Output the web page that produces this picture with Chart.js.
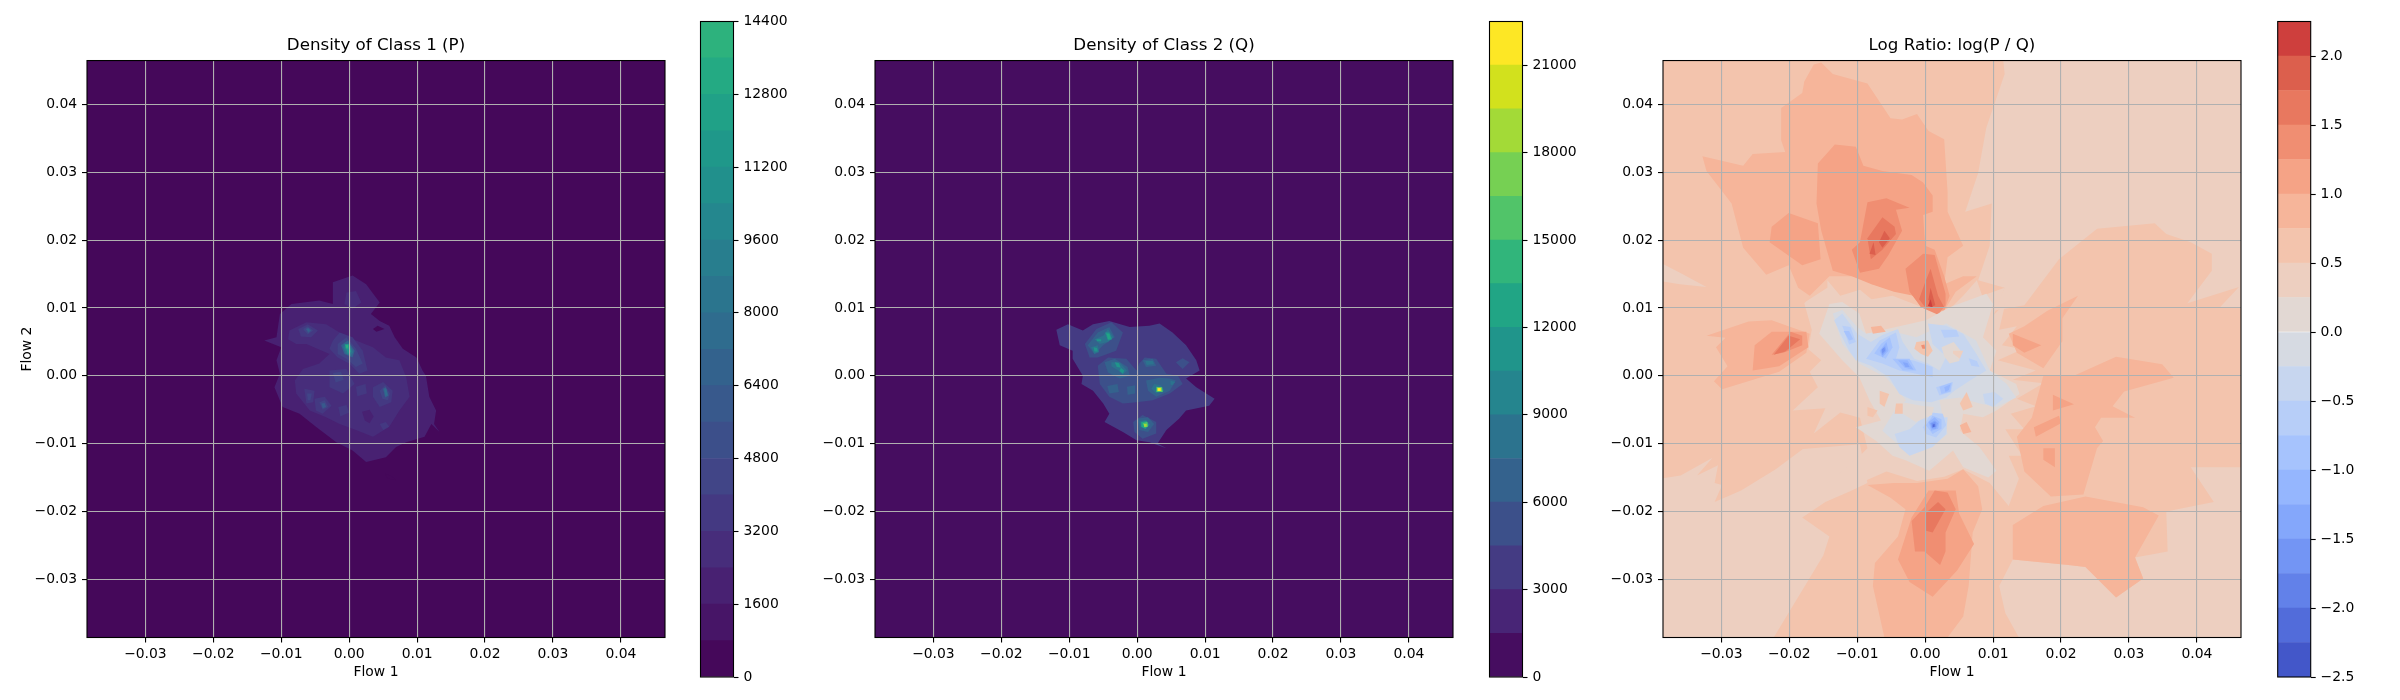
<!DOCTYPE html>
<html>
<head>
<meta charset="utf-8">
<title>Density and log ratio</title>
<script src="https://cdn.jsdelivr.net/npm/chart.js@4"></script>
<style>
  html, body { margin: 0; padding: 0; background: #fff; overflow: hidden; }
  canvas { position: absolute; top: 0; }
</style>
</head>
<body>
<canvas id="plotP" style="left:0"></canvas>
<canvas id="barP" style="left:690px"></canvas>
<canvas id="plotQ" style="left:791px"></canvas>
<canvas id="barQ" style="left:1479px"></canvas>
<canvas id="plotR" style="left:1579px"></canvas>
<canvas id="barR" style="left:2267px"></canvas>
<script>
/* ============================================================
   DATA - axis ticks, contour levels, contour regions
   region = [lower edge of the level, [x, y, x, y ...]] with x/y in 1e-3 flow units
============================================================ */
const flowLimits = [-0.0386, 0.0465];
const flowTicks = [-0.03, -0.02, -0.01, 0, 0.01, 0.02, 0.03, 0.04];

const pMax = 14400, pStep = 800;
const pTicks = [0, 1600, 3200, 4800, 6400, 8000, 9600, 11200, 12800, 14400];
const qMax = 22500, qStep = 1500;
const qTicks = [0, 3000, 6000, 9000, 12000, 15000, 18000, 21000];
const ratioMin = -2.5, ratioMax = 2.25, ratioStep = 0.25;
const ratioTicks = [-2.5, -2, -1.5, -1, -0.5, 0, 0.5, 1, 1.5, 2];

const wholeDomain = [-38.6,-38.6, 46.5,-38.6, 46.5,46.5, -38.6,46.5];

const pRegions = [
  [0, wholeDomain],
  [1600, [-2.4,13.8, .5,14.8, 2.5,13.5, 4.5,10.8, 3.2,9.1, 4.5,8.1, 5.9,7.4, 6.7,5.7, 7.9,4, 9.9,2.7, 10.8,.8, 11.3,0, 11.8,-3.1, 12.8,-5.1, 12.5,-7.1, 13.3,-8.3, 12.1,-7.1, 11.1,-9, 8.4,-9.8, 6.9,-10.5, 5.4,-12, 2.5,-12.7, .5,-11, -1.9,-9.8, -4.9,-7.5, -7.3,-5.6, -9.8,-4.6, -11,-1.7, -10.2,.3, -10.7,2.3, -10,4.2, -12.5,5.2, -10.7,5.7, -10.2,9.1, -8.5,10.6, -4.4,11.1, -2.4,10.6]],
  [0, [3.5,6.9, 4.2,7.4, 5.2,6.9, 4,6.5]],
  [0, [-5,-3.6, -4.7,-3.9, -4.3,-3.6, -4.7,-3.3]],
  [0, [5.3,-14.4, 6.4,-14.9, 6.9,-15.4, 5.6,-15.1]],
  [2400, [-8.8,6.7, -6.3,7.9, -3.4,7.6, -1.4,6.4, 1,5.2, 3.5,4.2, 5.4,2.7, 7.4,2.3, 8.4,-.2, 8.9,-3.1, 7.4,-5.1, 5.9,-7.5, 3.5,-9, 1,-8, -1.4,-7.1, -3.4,-6.1, -5.8,-5.1, -7.8,-2.6, -8,-.7, -6.8,1, -4.4,1.8, -2.9,3.2, -6.3,4.7, -7.8,4.7, -9,5.4]],
  [2400, [-.4,12.3, 1,12.5, 1.8,10.8, .5,9.9, -.7,10.6]],
  [1600, [1.9,-5.3, 3,-5, 3.6,-6, 3,-7, 2.3,-6.6]],
  [3200, [-7.5,6.9, -6.1,7.6, -4.6,6.7, -5.6,5.7, -7.1,5.8]],
  [3200, [-2.4,5.2, -1.4,6.4, .5,5.7, 2,3.7, 2.7,.8, 1.5,.3, 0,1.8, -1.7,2.7, -2.9,4]],
  [3200, [3.5,-1.7, 5,-.9, 6.4,-2.2, 6.2,-3.9, 4.5,-4.6, 3.5,-3.1]],
  [3200, [-5.1,-3.4, -3.6,-3.1, -2.6,-4.4, -3.9,-5.6, -4.9,-5.1]],
  [3200, [-6.6,-1.9, -5.1,-2.2, -5.3,-3.9, -6.3,-4.1]],
  [3200, [4.5,-7.1, 5.4,-6.8, 5.9,-7.5, 5,-8]],
  [3200, [-2.9,.8, -.4,1, .8,-1.2, -.9,-2.6, -2.9,-1.7]],
  [3200, [-1.6,-4.6, -.4,-4.3, 0,-5.4, -1.3,-6]],
  [3200, [1,-1.6, 2.4,-1.2, 2.6,-2.6, 1.2,-3]],
  [4000, [-6.8,6.9, -6.1,7.3, -5.3,6.7, -6.1,6.1]],
  [4000, [-1.7,4.7, -.4,5.7, 1,4, 2,1.8, 1,1.3, -.4,2.5, -1.7,3.2]],
  [4000, [4.5,-2.2, 5.3,-1.4, 6,-2.6, 5.7,-3.6, 4.9,-3.4]],
  [4000, [-4.4,-3.9, -3.6,-3.6, -3.1,-4.6, -3.9,-5]],
  [4000, [-6.2,-2.6, -5.5,-2.6, -5.7,-3.6, -6.1,-3.6]],
  [4000, [-2.4,.4, -1.2,.6, -.8,-.6, -2,-1]],
  [5600, [-6.4,6.9, -6,7.1, -5.6,6.7, -6,6.3]],
  [5600, [-4.1,-4.1, -3.6,-4, -3.4,-4.6, -3.9,-4.8]],
  [6400, [-6.2,6.85, -6,6.95, -5.8,6.7, -6,6.5]],
  [6400, [-1.2,4.5, -.2,5.2, .8,3.7, .5,2.7, -.7,3.2]],
  [6400, [5,-1.9, 5.4,-1.7, 5.8,-2.9, 5.3,-3.2]],
  [7200, [5.2,-2, 5.5,-2, 5.6,-2.8, 5.35,-3]],
  [8000, [-.9,4.3, 0,4.8, .6,3.5, .2,2.9, -.5,3.3]],
  [10400, [-.7,4.6, 0,4.7, .3,3.5, -.2,3.2]],
  [12000, [-.6,4.6, -.1,4.6, -.05,3.9, -.5,4]],
  [13600, [-.45,4.5, -.15,4.5, -.15,4.15, -.45,4.15]]
];

const qRegions = [
  [0, wholeDomain],
  [3000, [-11.9,6.8, -10.2,7.6, -8,6.7, -6.5,7.6, -4.1,8.1, -1.1,7.2, 1.8,7.4, 3.3,7.7, 5.2,6.4, 7.2,4.5, 8.7,2.3, 9.2,.8, 7.2,-.4, 8.7,-1.7, 11.4,-3.4, 10.6,-4.4, 7.2,-5.1, 6.2,-6.3, 4.3,-8, 3,-10, 4.3,-10.7, 1.8,-9.8, -.1,-9.5, -2.1,-8.3, -4.8,-6.8, -4.1,-5.6, -5,-4.1, -6.5,-2.2, -8.2,-1.2, -8,0, -9.5,2.5, -9.5,3.7, -11.4,4.5]],
  [4500, [-7.7,4.7, -6,6.9, -3.8,7.9, -2.1,6.4, -3.1,3.7, -5.8,2.7, -7,2.7]],
  [4500, [-5.8,1.5, -4.3,2.7, -1.6,2.5, -.1,.8, .3,1.8, 1.1,2.7, 2.8,2.5, 4.3,.3, 6,0, 6.7,-1.2, 4.8,-2.6, 2.3,-3.6, -.1,-3.9, -2.1,-4.1, -4.1,-3.1, -5.5,-1.2]],
  [4500, [-.6,-6.8, .8,-5.8, 2.8,-6.8, 2.8,-8.5, .8,-9.3, -.4,-8.3]],
  [4500, [5.7,2, 6.7,2.6, 7.7,2, 6.7,1]],
  [6000, [-7.3,4.5, -5.8,6.4, -4.1,7.2, -3.3,5.7, -5,4.5, -6.3,3.2]],
  [6000, [-4.8,2, -3.3,2.5, -1.4,1.3, -1.1,0, -2.6,-.4, -4.3,.5]],
  [6000, [.8,2.3, 2.3,2.5, 2.8,1.5, 1.3,1.3]],
  [6000, [1.3,-.7, 3.3,-.3, 4.8,-.4, 5.7,-.7, 4.8,-2.2, 2.8,-3.1, 1.6,-2.2]],
  [6000, [.1,-6.3, 1.6,-6.1, 2.5,-7.1, 1.6,-8.3, .3,-8]],
  [6000, [-4.4,-1.5, -2.9,-1.2, -2.7,-2.4, -4.1,-2.6]],
  [6000, [-1.5,-1.6, -.3,-1.4, -.3,-2.6, -1.4,-2.8]],
  [7500, [-6.3,5.4, -5,5.9, -4.3,6.9, -3.5,5.7, -4.3,5, -5.5,4.7]],
  [7500, [-6.8,4.2, -5.8,4.5, -5.6,3.5, -6.3,3.2]],
  [7500, [-3.8,2, -2.6,2, -1.5,.8, -2.1,.2, -2.8,.8, -3.8,1.4]],
  [7500, [1.2,2.2, 2.3,2.2, 2.5,1.7, 1.4,1.6]],
  [7500, [2.5,-1.2, 3.5,-1.4, 4,-2.2, 2.8,-2.6, 2.1,-1.9]],
  [7500, [.3,-6.7, 1.3,-6.5, 1.9,-7.2, 1.3,-7.9, .5,-7.6]],
  [7500, [4.9,-.7, 5.6,-.9, 5.2,-1.4, 4.9,-1.3]],
  [10500, [-4.7,6.4, -4.1,6.4, -3.7,5.4, -4.3,5.2]],
  [10500, [-3.3,2, -2.7,1.9, -2.4,1.2, -3,1.3]],
  [10500, [-2.4,1.2, -1.9,.8, -2.1,.3, -2.6,.7]],
  [10500, [-6,5.4, -5.3,5.4, -5.3,5.1, -5.9,5.1]],
  [10500, [-6.4,4.2, -5.9,4.1, -5.8,3.6, -6.3,3.6]],
  [12000, [-4.5,6.2, -4.1,6.2, -3.9,5.5, -4.3,5.4]],
  [12000, [.6,-6.8, 1.4,-6.7, 1.7,-7.3, 1.2,-7.8, .6,-7.5]],
  [13500, [2.8,-1.6, 3.7,-1.7, 3.8,-2.4, 2.8,-2.4]],
  [15000, [.8,-7, 1.5,-6.8, 1.6,-7.5, 1.1,-7.6]],
  [16500, [2.9,-1.7, 3.6,-1.7, 3.7,-2.3, 2.9,-2.3]],
  [18000, [1,-7.1, 1.4,-7.1, 1.4,-7.5, 1,-7.5]],
  [19500, [3,-1.8, 3.5,-1.8, 3.5,-2.25, 3,-2.25]],
  [21000, [3.05,-1.85, 3.4,-1.85, 3.4,-2.2, 3.05,-2.2]]
];

const ratioRegions = [
  [0.5, wholeDomain],
  // outer pale areas
  [0.25, [11.5,46.5, 11.7,44.5, 9,36.6, 7.8,29.9, 5.9,24.2, 9.8,25.4, 9.5,19.2, 7.8,14.1, 11.7,13, 10.1,9.6, 14.6,10.4, 19.7,17.2, 25.3,21.7, 33.8,22.5, 35.5,20.9, 39.1,19.7, 42.2,18, 42.2,15.5, 38.6,10.7, 46.2,13.1, 43.3,10, 46.5,10, 46.5,46.5]],
  [0.25, [-38.6,-15.1, -36,-14.7, -31.3,-12.1, -33.6,-14.7, -30.5,-13.2, -31,-15.8, -29.9,-16.1, -31,-18.6, -27.1,-16.9, -22,-13.8, -18,-10.8, -9.6,-10.1, -8.5,-15.8, -10.8,-16.9, -14.7,-18.6, -18.1,-20.9, -14.1,-23.7, -15,-26.5, -22.3,-38.6, -38.6,-38.6]],
  [0.25, [-38.6,16.5, -36.1,15.2, -32.2,13.1, -36.1,13.5, -38.6,13.9]],
  [0.25, [46.5,-38.6, 46.5,-13.5, 39.1,-13.5, 42.5,-18.6, 35.5,-20, 35.7,-25.9, 30.9,-26.8, 32.1,-29.9, 28.1,-32.7, 23.6,-28.2, 21.1,-27.9, 12.9,-27.1, 10.9,-31, 11.8,-35, 13.8,-38.6]],
  [0.25, [-17.5,11, -14.4,13, -14.4,14.1, -12.5,11.8, -9.6,12.7, -7.9,11.3, -4.8,11.8, -1.2,10.4, 2.8,9, 5.6,11.8, 7.6,14.1, 8.4,11.8, 11.7,13, 10.1,9, 11.8,10.7, 10.9,6.8, 13.5,7.3, 11.3,4.5, 14.3,3.9, 10.7,2.3, 16.3,.8, 12.9,-.6, 17.4,-1.1, 13.5,-3.4, 16.3,-4.5, 12.6,-5.6, 14.6,-7.9, 11.8,-7.9, 14.3,-11.8, 12.3,-11.8, 13.8,-15.2, 12.3,-19.2, 9.5,-15.8, 5.6,-13.8, 2.8,-14.9, -1.2,-15.5, -5.7,-14.1, -9.6,-15.8, -14.4,-15.8, -9.6,-11.8, -8.5,-10.7, -9.6,-6.2, -12.5,-5.4, -16.4,-8.5, -14.7,-4.8, -19.5,-5.1, -15.8,-1.7, -17,.6, -15.3,2.3, -17.2,3.9, -16.7,6.8, -17.8,10.7]],
  // rising toward the top, left and bottom lobes
  [0.75, [-15.3,46.2, -16.4,45.9, -17.8,43.4, -18.1,41.7, -21.2,39.5, -21.2,34.7, -20.6,33, -25.4,32.7, -26.8,31, -32.8,32.4, -32.2,30.2, -28.5,25.4, -26.8,18.9, -23.4,14.9, -20.1,16.3, -18.7,13, -17,11.8, -14.1,14.7, -9.6,14.7, -7.9,13.5, -5.1,13, -1.7,11.8, -.6,10.1, 2.8,9.6, 4.5,12.4, 7.6,14.7, 5.6,14.7, 2.8,13.5, 3.3,17.5, 5.6,19.2, 3.3,24.2, 3.3,27.1, 2.8,34.9, .5,36.1, -1.2,38.6, -3.4,37.8, -5.1,38, -8.5,43.1, -13.6,44.5]],
  [0.75, [-32.2,5.9, -26,8, -22.6,8.2, -17,6.2, -17.5,3.4, -21.5,.6, -29.9,-2, -31.1,-.8, -29.1,1.4, -30.8,4.2, -29.4,5.6]],
  [0.75, [14.6,7.3, 18,9.6, 22.5,11.8, 20.2,8.5, 20.2,5.1, 17.4,1.1, 13.5,3.4, 12.3,6.2]],
  [0.75, [17.4,0, 21.9,0, 28.1,2.8, 34.9,1.7, 36.6,-.3, 29.3,-2.3, 27.6,-4.5, 30.9,-6.2, 25.9,-6.2, 25,-7.6, 26.2,-9.6, 25.3,-10.7, 23.3,-17.5, 18.5,-17.8, 14.6,-14.1, 13.5,-9, 15.7,-6.2]],
  [0.75, [12.9,-22, 17.4,-19.2, 23.6,-17.8, 32.1,-19.4, 34.4,-20.6, 30.9,-26.8, 32.1,-29.9, 28.1,-32.7, 23.6,-28.2, 21.1,-27.9, 12.9,-27.1]],
  [0.75, [-6,-38.6, -7.7,-31, -7.4,-27.6, -4,-23.7, -2.9,-19.7, -5.1,-18, -8.5,-16.1, -4.6,-15.8, -1.2,-15.8, 3.3,-15.2, 5.6,-13.8, 7.8,-16.3, 8.4,-19.7, 7,-23.1, 6.4,-31, 5.6,-35.5, 3.3,-38.6]],
  [1, [-15.8,31.3, -13.3,34.1, -10.2,33.8, -9.1,31, -6.3,30.2, -2,29.6, -.3,28.5, 1.1,26.6, 1.1,24.2, -.3,23.7, 0,19.2, 1.4,18.6, 2.8,14.7, 3.6,11.8, 2.8,9.6, -.6,10.1, -1.7,11.8, -4.6,12.4, -7.9,13.5, -10.8,14.7, -13.6,15.5, -15.3,21.4, -16,25.4]],
  [1, [-22.6,22, -20.1,24, -15.8,22.5, -15.4,17.2, -18.1,16.3, -22.9,19.7]],
  [1, [-25.1,4.5, -22.6,6.5, -17.5,6.5, -17.2,4.2, -21.5,1.4, -25.4,.8]],
  [1, [-4,-27.1, -2,-20.9, .5,-16.9, 4.5,-16.9, 5,-20.3, 7.2,-24.8, 4.7,-28.7, 1.1,-32.6, -2.3,-30.4]],
  [1, [17.4,-10.7, 19.1,-10.7, 19.1,-13.5, 17.4,-12.4]],
  [1, [16,-7.6, 19.7,-5.9, 20,-7, 16.3,-9]],
  [1, [18.8,-2.8, 21.9,-4.2, 18.8,-5.1]],
  [1, [12.9,6.2, 17.1,4.5, 14.6,3.4, 12.9,4.5]],
  [1.25, [-9.6,19.7, -8.5,25.6, -5.7,26.2, -2.3,24.8, -4.3,24.5, -3.4,21.4, -5.4,17.8, -6.8,15.8, -9.6,15.2, -10.8,18.6]],
  [1.25, [-2.9,15.8, -.3,18, 1.4,17.8, 3,12.1, 3,10.4, 1.9,9, -.6,10.1, -2.3,12.4]],
  [1.25, [-22.6,3.1, -19.8,6.5, -18.1,5.9, -18.1,4.5, -20.9,3.4]],
  [1.25, [-2,-21.4, -.1,-19.4, 1.4,-16.9, 3.3,-17.2, 4.5,-19.7, 3,-23.1, 3,-25.9, 2.2,-27.9, -.1,-25.9, -1.5,-25.9]],
  [1.5, [-8.5,20.3, -6.3,23.4, -4.5,22, -4.3,20.9, -6.3,18.6, -8,17.2]],
  [1.5, [0,13.8, .8,15.8, 1.9,11.8, 2.8,10.1, 0,10.1, -.9,11.3]],
  [1.5, [-22.3,3.1, -20.1,5.9, -18.4,5.4, -20.6,3.6]],
  [1.5, [0,-20.3, 1.9,-18.6, 3,-19.7, 1.1,-23.1, 0,-22.8]],
  [1.75, [-8.2,18, -7.6,19.7, -7.3,17.8]],
  [1.75, [-6.8,19.7, -6,21.4, -5.2,20.3, -6.3,18.9]],
  [1.75, [.5,11.3, .8,13, 1.5,10.4, .8,10.1]],
  [2, [.4,10.3, .8,11.3, 1.1,10.1]],
  // centre, around and below zero
  [0, [-14.1,10.6, -12.2,10.9, -9.7,9.2, -8.7,6.2, -4.3,7.2, .1,8.2, 3.6,10.1, 9,12.1, 10,10.6, 8.5,5.7, 10.5,3.7, 9.5,.8, 13.4,-1.2, 13.9,-2.7, 10.5,-5.1, 8.5,-6.1, 5.6,-5.6, 5.1,-8.1, 8,-10.5, 10.5,-14, 9.3,-15, 5.6,-13.5, 4.1,-11, .6,-14, -2.8,-12.5, -4.8,-11.8, -7.2,-9.6, -10.2,-7.6, -6.5,-6.6, -8.2,-3.6, -9.7,-.2, -12.2,2.3, -15.6,6.2]],
  [-0.25, [-13.6,9.2, -12.2,9.7, -10,7.2, -8.7,6.2, -5.3,6.7, -1.3,5.7, 3.1,7.7, 7.5,5.2, 9.5,.8, 12,-1.2, 13.4,-3.2, 10.5,-4.6, 8,-4.1, 5.1,-3.2, 2.1,-3.6, 2.6,-6.1, 3.3,-8.6, 1.1,-10.3, -.3,-11, -3.8,-10.3, -6.3,-8.1, -4.5,-5.1, -2.8,-3.6, -5.8,-.2, -9.7,1.8, -12.2,4.7]],
  [-0.5, [-13.4,8.2, -12.2,9.2, -10,6.2, -8,5, -6.3,6, -4,6.9, -3.3,5, -1.6,2.5, .4,1.8, 2.1,.8, 1.1,-.7, .9,-3.9, -1.8,-3.6, -3.8,-2.7, -5.3,-.2, -8,1.5, -10.2,2.3, -11.2,3.7, -12.4,6]],
  [-0.5, [.4,7.7, 3.1,7.4, 5.6,6.2, 7.5,3.3, 9,.8, 6.6,-.7, 4.3,-2.2, 3.1,-3.2, .9,-3.9, .4,-1.2, 2.1,.8, 3.1,2.8, 1.1,4.7]],
  [-0.5, [-4.5,-8.6, -2.3,-7.9, -.3,-6.1, 3.3,-6.1, 3.1,-8.6, 1.1,-10.5, -2.3,-11.8, -3.8,-10.5]],
  [-0.5, [8.5,-2.7, 10.2,-2.4, 11.5,-3.4, 10,-4.6, 8.8,-4.1]],
  [-0.75, [-12.2,7.4, -11,7.2, -10.2,5, -11.2,4.6]],
  [-0.75, [-8.7,2.5, -6.7,5.2, -4.3,6.4, -3.8,4.2, -4.3,2.5, -1.8,2.3, 1.1,1.3, 1.1,-.2, -1.3,.3, -3.8,.8, -6.3,1.8]],
  [-0.75, [1.6,-1.7, 4.1,-.9, 3.8,-2.4, 2.1,-2.9]],
  [-0.75, [2.3,6.8, 4.6,6.8, 5,5.8, 2.8,5.6]],
  [-0.75, [6.4,2.6, 7.6,2.2, 8,1.3, 6.8,1.5]],
  [-0.75, [-.3,-7.6, .9,-5.4, 2.6,-5.6, 3.1,-7.3, 1.6,-9.1, .1,-8.6]],
  [-1, [-12,6.6, -11.2,6.6, -10.6,5.4, -11.2,5.2]],
  [-1, [-7.5,3.3, -6.5,4.7, -5.2,5.7, -4.8,4.2, -5.8,2.5]],
  [-1, [-4.8,2.5, -2.3,2.5, -1.3,.8, -3.3,.8]],
  [-1, [2.1,-1.6, 3.9,-1, 3.7,-2.3, 2.4,-2.7]],
  [-1, [.1,-7.3, 1.1,-5.9, 2.4,-6.4, 2.4,-7.8, 1.1,-8.6]],
  [-1.25, [-6.7,3.7, -5.7,5, -5.4,3.7, -6.3,2.7]],
  [-1.25, [-4,2.3, -2.6,2.3, -1.7,.9, -3,1.2]],
  [-1.25, [2.8,-1.7, 3.7,-1.3, 3.5,-2.1, 3,-2.4]],
  [-1.25, [.5,-6.8, 1.4,-6.1, 2.1,-6.8, 1.9,-7.8, .9,-8.1]],
  [-1.5, [-6.5,3.7, -5.9,4.4, -5.7,3.7, -6.3,3]],
  [-1.5, [-3.3,2, -2.6,1.9, -2.3,1.3, -2.9,1.3]],
  [-1.5, [.7,-7, 1.4,-6.6, 1.9,-7, 1.6,-7.8, 1,-7.8]],
  [-1.75, [.9,-7, 1.5,-6.8, 1.6,-7.5, 1,-7.7]],
  [-1.75, [-6.4,3.9, -6,4.2, -5.9,3.7, -6.3,3.3]],
  [-2.25, [1.1,-7.2, 1.4,-7.1, 1.4,-7.5, 1.1,-7.6]],
  // warm specks inside the centre
  [0, [2.4,4.2, 4.2,5, 5.3,3.6, 5,2.2, 3.6,1.8, 2.8,2.9]],
  [0, [-3.3,-3.9, -.6,-4.4, 1.3,-4.6, 1,-5.8, -1.4,-6.8, -3.3,-5.6]],
  [0.5, [-1.3,5, .4,5.2, 1.1,3.7, .4,2.8, -.6,3.2, -1.6,4]],
  [1.25, [-.6,4.5, -.1,4.6, 0,4, -.4,4]],
  [0.75, [-8,7.2, -6.5,7.4, -5.8,6.5, -7.7,6.2]],
  [0.5, [-4.3,-4.1, -3.3,-4.1, -3.3,-5.6, -4.5,-5.6]],
  [0.5, [-6.7,-2.2, -5.3,-2.7, -6,-4.6, -6.7,-4.1]],
  [0.5, [-8.5,-4.6, -7,-5.1, -7.7,-6.1, -8.5,-5.9]],
  [0.5, [5.1,-4.1, 6.1,-2.4, 7,-4.6, 5.6,-5.1]],
  [0.75, [5.1,-7.3, 6.1,-6.8, 6.8,-8.3, 5.6,-8.6]],
  [0.25, [4.1,3.7, 5.6,3.7, 5.1,2.5, 4.1,3.3]]
];

/* ============================================================
   COLOURS
============================================================ */
const viridisStops = ["#440154","#471365","#482475","#463480","#414487","#3b528b","#355f8d","#2f6c8e","#2a788e","#25858e","#21918c","#1e9c89","#22a884","#2fb47c","#44bf70","#5ec962","#7ad151","#9bd93c","#bddf26","#dfe318","#fde725"];
const coolwarmStops = ["#3b4cc0","#5977e3","#7b9ff9","#9dbdff","#c0d4f5","#dddcdc","#f2cbb7","#f7ad90","#ee8468","#d65244","#b40426"];

function sampleColor(stops, t) {
    const pos = Math.min(Math.max(t, 0), 1) * (stops.length - 1);
    const i = Math.min(Math.floor(pos), stops.length - 2);
    const f = pos - i;
    const a = parseInt(stops[i].slice(1), 16), b = parseInt(stops[i + 1].slice(1), 16);
    const mix = (s) => Math.round(((a >> s) & 255) * (1 - f) + ((b >> s) & 255) * f);
    return `rgb(${mix(16)}, ${mix(8)}, ${mix(0)})`;
}
const densityColor = (step) => (lo) => sampleColor(viridisStops, (lo + step / 2) / 21750);
const ratioColor = (lo) => sampleColor(coolwarmStops, (lo + ratioStep / 2 + 2.5) / 5);

/* ============================================================
   CHART HELPERS
============================================================ */
Chart.defaults.font.family = '"DejaVu Sans"';
Chart.defaults.font.size = 13.9;
Chart.defaults.color = "#000";
Chart.defaults.animation = false;
Chart.defaults.plugins.legend.display = false;
Chart.defaults.plugins.tooltip.enabled = false;

const frame = {
    id: "frame",
    afterDraw(chart) {
        const { ctx, chartArea: a } = chart;
        ctx.save();
        ctx.strokeStyle = "#000";
        ctx.lineWidth = 1.1;
        ctx.strokeRect(a.left, a.top, a.right - a.left, a.bottom - a.top);
        ctx.restore();
    }
};
const minus = (s) => s.replace("-", "\u2212");
const useTicks = (values) => (axis) => { axis.ticks = values.map((v) => ({ value: v })); };

function flowAxis(yWidth, xHeight, titleText, isY) {
    return {
        type: "linear",
        min: flowLimits[0],
        max: flowLimits[1],
        afterBuildTicks: useTicks(flowTicks),
        afterFit(axis) { if (isY) axis.width = yWidth; else axis.height = xHeight; },
        grid: { color: "#b0b0b0", lineWidth: 1.1, z: 1, tickLength: 5, tickColor: "#000", tickWidth: 1.1 },
        border: { display: false },
        ticks: {
            autoSkip: false, maxRotation: 0, padding: isY ? 4.9 : 3.9,
            callback: (v) => minus((Math.abs(v) < 1e-9 ? 0 : v).toFixed(2))
        },
        title: { display: !!titleText, text: titleText, font: { size: 13.9 }, padding: isY ? { top: 19, bottom: 0 } : { top: 0, bottom: 19 } }
    };
}

function drawPlot(id, width, yWidth, regions, colorOf, titleText, yTitle) {
    const canvas = document.getElementById(id);
    canvas.width = width;
    canvas.height = 700;
    new Chart(canvas, {
        type: "scatter",
        data: {
            datasets: regions.map(([lo, flat], n) => {
                const data = [];
                for (let i = 0; i < flat.length; i += 2) data.push({ x: flat[i] / 1000, y: flat[i + 1] / 1000 });
                return {
                    data, showLine: true, fill: "shape", order: regions.length - n,
                    backgroundColor: colorOf(lo), borderColor: "transparent", borderWidth: 0, pointRadius: 0
                };
            })
        },
        options: {
            responsive: false,
            events: [],
            layout: { padding: { right: 25 } },
            plugins: {
                title: {
                    display: true, text: titleText, fullSize: false,
                    font: { size: 16.7, weight: "normal" }, padding: { top: 35.6, bottom: 4.9 }
                }
            },
            scales: {
                x: flowAxis(yWidth, 62.5, "Flow 1", false),
                y: flowAxis(yWidth, 62.5, yTitle, true)
            }
        },
        plugins: [frame]
    });
}

function drawColorbar(id, padLeft, min, max, step, ticks, colorOf, fmt) {
    const canvas = document.getElementById(id);
    const boxWidth = 110;
    canvas.width = boxWidth;
    canvas.height = 700;
    const datasets = [];
    for (let k = 0; k * step + min < max - 1e-9; k++) {
        const lo = min + k * step;
        datasets.push({ data: [[lo, lo + step]], backgroundColor: colorOf(lo), grouped: false, barPercentage: 1, categoryPercentage: 1 });
    }
    new Chart(canvas, {
        type: "bar",
        data: { labels: [""], datasets },
        options: {
            responsive: false,
            events: [],
            layout: { padding: { left: padLeft, top: 21.5, bottom: 23 } },
            scales: {
                x: { display: false },
                y: {
                    position: "right", min, max,
                    afterBuildTicks: useTicks(ticks),
                    afterFit(axis) { axis.width = boxWidth - padLeft - 33; },
                    grid: { drawOnChartArea: false, tickLength: 5, tickColor: "#000", tickWidth: 1.1 },
                    border: { display: false },
                    ticks: { autoSkip: false, padding: 4.9, callback: fmt }
                }
            }
        },
        plugins: [frame]
    });
}

/* ============================================================
   THE THREE PANELS
============================================================ */
drawPlot("plotP", 690, 87, pRegions, densityColor(pStep), "Density of Class 1 (P)", "Flow 2");
drawColorbar("barP", 10.5, 0, pMax, pStep, pTicks, densityColor(pStep), (v) => String(v));

drawPlot("plotQ", 687, 84, qRegions, densityColor(qStep), "Density of Class 2 (Q)", "");
drawColorbar("barQ", 10.5, 0, qMax, qStep, qTicks, densityColor(qStep), (v) => String(v));

drawPlot("plotR", 687, 84, ratioRegions, ratioColor, "Log Ratio: log(P / Q)", "");
drawColorbar("barR", 10.7, ratioMin, ratioMax, ratioStep, ratioTicks, ratioColor, (v) => minus(v.toFixed(1)));
</script>
</body>
</html>
